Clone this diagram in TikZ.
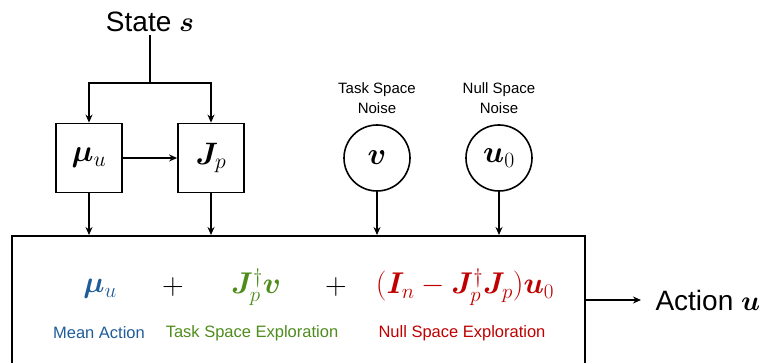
\RequirePackage{fix-cm}
\documentclass[tikz,border=0pt]{standalone}
\usepackage{amsmath}
\usepackage{bm}
\usepackage{fontspec}
\setmainfont{Liberation Sans}
\usepackage{tikz}
\usetikzlibrary{arrows.meta, positioning, calc}
\definecolor{meanblue}{RGB}{31,92,153}
\definecolor{taskgreen}{RGB}{78,140,28}
\definecolor{nullred}{RGB}{192,0,0}

\begin{document}
\begin{tikzpicture}[
  x=1pt, y=-1pt,
  netbox/.style={rectangle, draw, line width=1.8pt, minimum width=66pt,
                 minimum height=69pt, font=\fontsize{31}{34}\selectfont},
  noise/.style={circle, draw, line width=1.6pt, minimum size=66pt, inner sep=0pt,
                font=\fontsize{31}{34}\selectfont},
  noiselabel/.style={align=center, font=\fontsize{15}{20}\selectfont},
  termlabel/.style={font=\fontsize{16.5}{19}\selectfont},
  bigtext/.style={font=\fontsize{28}{32}\selectfont},
  eq/.style={font=\fontsize{30}{34}\selectfont},
  arr/.style={-{Stealth[length=8pt, width=7pt]}, line width=1.5pt}
]
\useasboundingbox (0,0) rectangle (769,363);

% Input
\node[bigtext] (state) at (150,22) {State $\bm{s}$};
\coordinate (split) at (150,83);

% Networks
\node[netbox] (mu) at (89,158) {$\bm{\mu}_u$};
\node[netbox] (jac) at (211,158) {$\bm{J}_p$};

% Noise sources
\node[noise] (v) at (377,158) {$\bm{v}$};
\node[noise] (uzero) at (499,158) {$\bm{u}_0$};
\node[noiselabel, above=7pt of v] (vlabel) {Task Space\\Noise};
\node[noiselabel, above=7pt of uzero] (ulabel) {Null Space\\Noise};

% Action composition box
\node[rectangle, draw, line width=2pt, minimum width=573pt, minimum height=140pt]
  (main) at (298.5,306) {};

\node[eq, color=meanblue] (termmu) at (100,289) {$\bm{\mu}_u$};
\node[eq] (plusa) at (173,287) {$+$};
\node[eq, color=taskgreen] (termtask) at (256,287) {$\bm{J}_p^{\dagger}\bm{v}$};
\node[eq] (plusb) at (336,287) {$+$};
\node[eq, color=nullred] (termnull) at (465,287)
  {$(\bm{I}_n-\bm{J}_p^{\dagger}\bm{J}_p)\bm{u}_0$};

\node[termlabel, color=meanblue] (lmean) at (99,333) {Mean Action};
\node[termlabel, color=taskgreen] (ltask) at (252,333) {Task Space Exploration};
\node[termlabel, color=nullred] (lnull) at (462,333) {Null Space Exploration};

% Output
\coordinate (outend) at (641,300);
\node[bigtext, anchor=west] (action) at (652,300) {Action $\bm{u}$};

% Arrows
\draw[line width=1.5pt] (state.south) -- (split);
\draw[arr] (split) -| (mu.north);
\draw[arr] (split) -| (jac.north);
\draw[arr] (mu) -- (jac);
\draw[arr] (mu.south) -- (mu.south |- main.north);
\draw[arr] (jac.south) -- (jac.south |- main.north);
\draw[arr] (v.south) -- (v.south |- main.north);
\draw[arr] (uzero.south) -- (uzero.south |- main.north);
\draw[arr] (main.east |- outend) -- (outend);

\end{tikzpicture}
\end{document}
